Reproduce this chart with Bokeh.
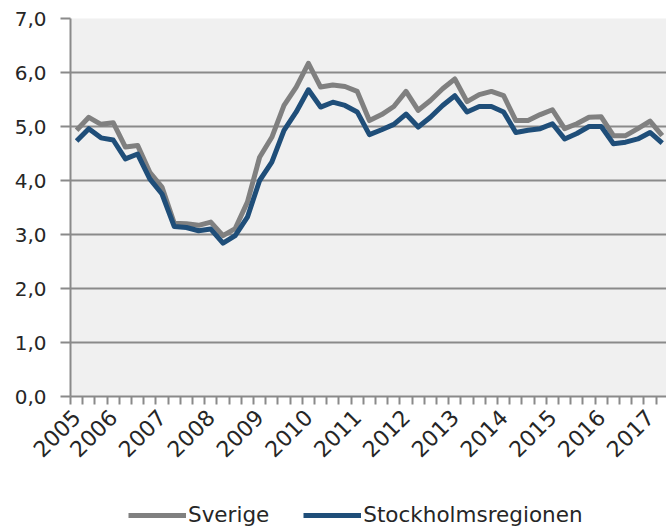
import math
from bokeh.plotting import figure
from bokeh.layouts import column
from bokeh.models import FixedTicker, Legend, LegendItem, ColumnDataSource
from bokeh.embed import file_html
from bokeh.resources import INLINE

# Quarterly data, 2005 Q2 .. 2017 Q2
sverige = [4.93, 5.17, 5.04, 5.07, 4.62, 4.65, 4.15, 3.88, 3.21, 3.2,
           3.17, 3.23, 2.98, 3.11, 3.6, 4.43, 4.8, 5.39, 5.73, 6.17,
           5.73, 5.77, 5.74, 5.65, 5.11, 5.22, 5.37, 5.65, 5.3, 5.48,
           5.7, 5.88, 5.46, 5.59, 5.65, 5.57, 5.11, 5.11, 5.22, 5.31,
           4.96, 5.05, 5.17, 5.18, 4.83, 4.83, 4.96, 5.1, 4.83]
stockholm = [4.73, 4.96, 4.79, 4.75, 4.4, 4.49, 4.03, 3.75, 3.15, 3.13,
             3.07, 3.1, 2.84, 2.98, 3.32, 4.0, 4.34, 4.93, 5.27, 5.68,
             5.36, 5.45, 5.39, 5.27, 4.85, 4.94, 5.04, 5.23, 4.99, 5.17,
             5.39, 5.57, 5.27, 5.37, 5.37, 5.27, 4.89, 4.93, 4.96, 5.05,
             4.77, 4.87, 5.0, 5.0, 4.68, 4.71, 4.77, 4.89, 4.69]
year_labels = ["2005", "2006", "2007", "2008", "2009", "2010", "2011",
               "2012", "2013", "2014", "2015", "2016", "2017"]
year_pos = [0, 3, 7, 11, 15, 19, 23, 27, 31, 35, 39, 43, 47]
y_ticks = [0, 1, 2, 3, 4, 5, 6, 7]
y_labels = ["0,0", "1,0", "2,0", "3,0", "4,0", "5,0", "6,0", "7,0"]
series_names = ["Sverige", "Stockholmsregionen"]

n = len(sverige)
xs = list(range(n))
src = ColumnDataSource(dict(x=xs, sv=sverige, st=stockholm))

FONT = "DejaVu Sans"
GRID = "#8a8a8a"
TXT = "#262626"
C_SV = "#808080"
C_ST = "#1f4e79"

p = figure(width=666, height=471, frame_width=596, frame_height=378,
           output_backend="svg", toolbar_location=None,
           x_range=(-0.5, 48.35), y_range=(0, 7),
           min_border_left=70, min_border_right=0, min_border_top=18,
           min_border_bottom=75)
p.outline_line_color = None
p.background_fill_color = "#f0f0f0"
p.border_fill_color = "white"

p.line("x", "sv", source=src, line_color=C_SV, line_width=5, line_join="round")
p.line("x", "st", source=src, line_color=C_ST, line_width=5, line_join="round")

# x axis
xa = p.xaxis[0]
xa.ticker = FixedTicker(ticks=year_pos, minor_ticks=[i - 0.5 for i in range(n + 1)])
xa.major_label_overrides = {pos: lab for pos, lab in zip(year_pos, year_labels)}
xa.major_label_orientation = math.pi / 4
xa.major_tick_line_color = None
xa.minor_tick_in = 0
xa.minor_tick_out = 8
xa.minor_tick_line_color = GRID
xa.minor_tick_line_width = 2
xa.axis_line_color = GRID
xa.axis_line_width = 2
xa.major_label_text_font = FONT
xa.major_label_text_font_size = "22px"
xa.major_label_text_color = TXT
xa.major_label_standoff = 9

# y axis
ya = p.yaxis[0]
ya.ticker = FixedTicker(ticks=y_ticks)
ya.major_label_overrides = {t: l for t, l in zip(y_ticks, y_labels)}
ya.minor_tick_line_color = None
ya.major_tick_in = 0
ya.major_tick_out = 10
ya.major_tick_line_color = GRID
ya.major_tick_line_width = 2
ya.axis_line_color = GRID
ya.axis_line_width = 2
ya.major_label_text_font = FONT
ya.major_label_text_font_size = "20px"
ya.major_label_text_color = TXT
ya.major_label_standoff = 14

p.xgrid.grid_line_color = None
p.ygrid.grid_line_color = GRID
p.ygrid.grid_line_width = 2

# legend strip below the chart (series drawn out of view, only legend shows)
p2 = figure(width=666, height=57, output_backend="svg", toolbar_location=None,
            x_range=(0, 1), y_range=(100, 101),
            min_border_left=0, min_border_right=0, min_border_top=0,
            min_border_bottom=0)
p2.axis.visible = False
p2.grid.visible = False
p2.outline_line_color = None
p2.background_fill_color = "white"
r1 = p2.line("x", "sv", source=src, line_color=C_SV, line_width=5)
r2 = p2.line("x", "st", source=src, line_color=C_ST, line_width=5)

legend = Legend(items=[LegendItem(label=series_names[0], renderers=[r1]),
                       LegendItem(label=series_names[1], renderers=[r2])],
                orientation="horizontal", location=(58, 1))
legend.label_text_font = FONT
legend.label_text_font_size = "21.5px"
legend.label_text_color = TXT
legend.glyph_width = 58
legend.glyph_height = 20
legend.label_standoff = 2
legend.spacing = 34
legend.border_line_color = None
legend.background_fill_alpha = 0
legend.margin = 0
legend.padding = 2
p2.add_layout(legend, "center")

layout = column(p, p2, spacing=0)
open("out.html", "w").write(file_html(layout, INLINE))
